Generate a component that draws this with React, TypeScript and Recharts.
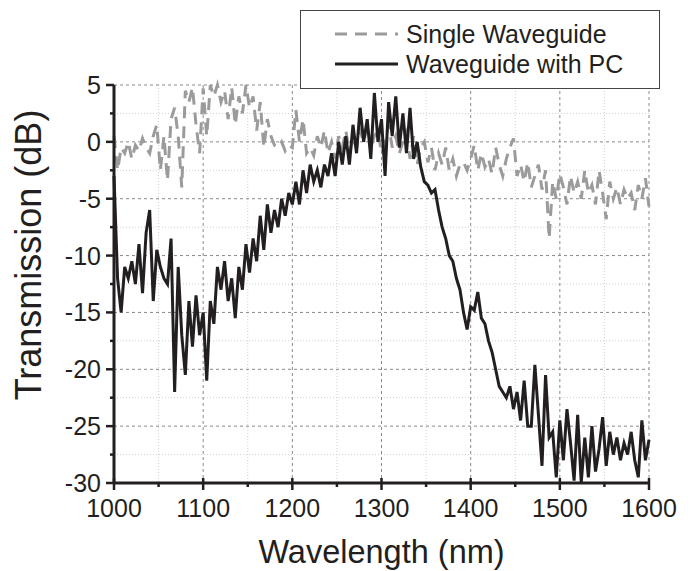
import React from "react";
import { LineChart, Line, XAxis, YAxis, CartesianGrid, Legend, Label } from "recharts";

// sample grid (nm), every 4 nm
const wavelength = [
  1000, 1004, 1008, 1012, 1016, 1020, 1024, 1028, 1032, 1036,
  1040, 1044, 1048, 1052, 1056, 1060, 1064, 1068, 1072, 1076,
  1080, 1084, 1088, 1092, 1096, 1100, 1104, 1108, 1112, 1116,
  1120, 1124, 1128, 1132, 1136, 1140, 1144, 1148, 1152, 1156,
  1160, 1164, 1168, 1172, 1176, 1180, 1184, 1188, 1192, 1196,
  1200, 1204, 1208, 1212, 1216, 1220, 1224, 1228, 1232, 1236,
  1240, 1244, 1248, 1252, 1256, 1260, 1264, 1268, 1272, 1276,
  1280, 1284, 1288, 1292, 1296, 1300, 1304, 1308, 1312, 1316,
  1320, 1324, 1328, 1332, 1336, 1340, 1344, 1348, 1352, 1356,
  1360, 1364, 1368, 1372, 1376, 1380, 1384, 1388, 1392, 1396,
  1400, 1404, 1408, 1412, 1416, 1420, 1424, 1428, 1432, 1436,
  1440, 1444, 1448, 1452, 1456, 1460, 1464, 1468, 1472, 1476,
  1480, 1484, 1488, 1492, 1496, 1500, 1504, 1508, 1512, 1516,
  1520, 1524, 1528, 1532, 1536, 1540, 1544, 1548, 1552, 1556,
  1560, 1564, 1568, 1572, 1576, 1580, 1584, 1588, 1592, 1596,
  1600,
];

// Single Waveguide (dB)
const single = [
  0.5, -2.5, -0.5, -1, 0, -1.5, -0.3, -0.8, 0.3, -0.5,
  -1, 0.5, 1.5, -2.5, 0.5, -3.4, 2, 3, 0.5, -4,
  4.5, 3.5, 4.8, 1.5, -1, 4.7, 0.5, 5, 4, 5,
  3.5, 4.5, 2, 4.8, 1.5, 4, 2.5, 5, 3, 4,
  1, 3.5, -0.5, 2, 0.5, -0.3, -0.5, 0, -0.8, -0.3,
  -0.5, 2.8, 0, 2, -1, -0.5, -1.2, 0.5, -0.5, 1,
  -1, 0, -1.5, 0.5, -0.5, 1, -1, 0.3, -0.5, 1,
  0, 1.5, -0.5, 0.5, 1, -1, 0, 1.5, -0.5, 0.5,
  -1, 0, 0.8, -1.5, 0.5, -2, -0.5, 0, -1.8, -0.5,
  -2.5, -1, -2, -0.5, -2.5, -1.5, -3, -2, -1.8, -2.5,
  -1.5, -0.3, -2.5, -1, -2.2, -1.5, -2.8, -0.5, -2, -3,
  -1.5, -0.5, 0.3, -3, -2, -3.5, -1.8, -4, -3, -2,
  -4.2, -2.5, -8.5, -3.5, -5, -2.8, -4, -5.5, -3, -4.5,
  -3.5, -5, -2.5, -4.5, -3.8, -5.5, -2.5, -4.5, -6.8, -3.5,
  -5, -4, -5.5, -4.2, -5, -4.5, -6, -3.8, -5, -3.2,
  -5.7,
];

// Waveguide with PC (dB)
const withPc = [
  -3, -12, -15, -11, -12, -10.5, -12.5, -9, -13.3, -8,
  -6, -14, -9.5, -11, -12, -12.5, -8.5, -22, -11, -17,
  -20.5, -14, -18, -13.5, -17, -15, -21, -14, -16, -11,
  -13, -10.5, -14, -12, -15.5, -11, -13, -9, -11.5, -8.5,
  -10.5, -6.5, -9.5, -5.5, -8, -6, -7.5, -5, -6.5, -4.5,
  -5.5, -3.5, -5.5, -2.5, -4.5, -2, -3.5, -2.5, -4, -2,
  -3, -1, -3, 0, -2, 0.5, -2, 1.5, -1, 3,
  0, 2, -1.5, 4.3, 0, 2, -3, 3.5, 0.5, 4,
  -0.5, 2.5, -1, 3, -1.5, 0, -2.2, -3.5, -3.8, -4.5,
  -4.2, -6, -7.5, -8.5, -10, -10.5, -12, -13, -15, -16.5,
  -14.5, -14.8, -13.2, -15.5, -16, -17.5, -18.5, -20, -21.5, -22,
  -22.5, -21.5, -23.5, -22, -24.5, -21, -25, -25, -19.6, -24,
  -28.5, -20.5, -26, -25.5, -29.5, -24.5, -28, -23.5, -26.5, -29.8,
  -24, -30, -26, -29.5, -25, -29, -27, -24.2, -28.5, -25.5,
  -27.5, -26, -28, -26.5, -27.5, -25.5, -28, -29.5, -24.5, -28,
  -26.2,
];

const xTicks = [1000, 1050, 1100, 1150, 1200, 1250, 1300, 1350, 1400, 1450, 1500, 1550, 1600];
const xMajor = [1000, 1100, 1200, 1300, 1400, 1500, 1600];
const xMinor = [1050, 1150, 1250, 1350, 1450, 1550];
const yTicks = [-30, -27.5, -25, -22.5, -20, -17.5, -15, -12.5, -10, -7.5, -5, -2.5, 0, 2.5, 5];
const yMajor = [-30, -25, -20, -15, -10, -5, 0, 5];
const yMinor = [-27.5, -22.5, -17.5, -12.5, -7.5, -2.5, 2.5];

const rows = wavelength.map((w, i) => ({ wavelength: w, single: single[i], withPc: withPc[i] }));

const FONT = '"Liberation Sans", Arial, Helvetica, sans-serif';
const INK = "#231f20";

const BottomTick = ({ x, y, payload }: any) => {
  const major = xMajor.includes(payload.value);
  return (
    <g>
      <line x1={x} x2={x} y1={major ? y - 5 : y} y2={major ? y + 7 : y + 4} stroke={INK} strokeWidth={2.5} />
      {major && (
        <text x={x} y={y + 34} textAnchor="middle" fontSize={25} fontFamily={FONT} fill={INK}>
          {payload.value}
        </text>
      )}
    </g>
  );
};

const TopTick = ({ x, y, payload }: any) => {
  const major = xMajor.includes(payload.value);
  return <line x1={x} x2={x} y1={major ? y - 7 : y - 3} y2={major ? y + 2 : y} stroke={INK} strokeWidth={2.5} />;
};

const LeftTick = ({ x, y, payload }: any) => {
  const major = yMajor.includes(payload.value);
  return (
    <g>
      <line x1={major ? x - 8 : x - 4} x2={x} y1={y} y2={y} stroke={INK} strokeWidth={2.5} />
      {major && (
        <text x={x - 13} y={y + 9} textAnchor="end" fontSize={25} fontFamily={FONT} fill={INK}>
          {payload.value}
        </text>
      )}
    </g>
  );
};

const LegendBox = ({ payload }: any) => (
  <div
    style={{
      width: 360,
      height: 79,
      boxSizing: "border-box",
      border: "1px solid #444",
      background: "#fff",
      position: "relative",
      fontFamily: FONT,
    }}
  >
    {(payload || []).map((p: any, i: number) => (
      <div
        key={p.value}
        style={{ position: "absolute", left: 34, top: 8 + i * 30, height: 30, display: "flex", alignItems: "center" }}
      >
        <svg width={63} height={6}>
          <line x1={0} x2={63} y1={3} y2={3} stroke={p.color} strokeWidth={3} strokeDasharray={p.payload?.strokeDasharray} />
        </svg>
        <span style={{ marginLeft: 8, fontSize: 25, color: INK, whiteSpace: "nowrap" }}>{p.value}</span>
      </div>
    ))}
  </div>
);

export default function App() {
  return (
    <div style={{ position: "absolute", left: 0, top: 0, background: "#fff", fontFamily: FONT }}>
      <LineChart width={692} height={571} data={rows} margin={{ top: 85, right: 43, bottom: 0, left: 0 }}>
        <CartesianGrid
          horizontalValues={yMinor}
          verticalValues={xMinor}
          stroke="#d0d0d0"
          strokeDasharray="1 2"
        />
        <CartesianGrid
          horizontalValues={yMajor}
          verticalValues={xMajor}
          stroke="#8a8a8a"
          strokeDasharray="3 3"
        />
        <XAxis
          dataKey="wavelength"
          type="number"
          domain={[1000, 1600]}
          ticks={xTicks}
          height={88}
          tickSize={0}
          tickMargin={0}
          tickLine={false}
          tick={<BottomTick />}
          axisLine={{ stroke: INK, strokeWidth: 3 }}
          interval={0}
        >
          <Label
            content={({ viewBox }: any) => (
              <text
                x={viewBox.x + viewBox.width / 2}
                y={563}
                textAnchor="middle"
                fontSize={32.5}
                fontFamily={FONT}
                fill={INK}
              >
                Wavelength (nm)
              </text>
            )}
          />
        </XAxis>
        <XAxis
          xAxisId="top"
          orientation="top"
          type="number"
          domain={[1000, 1600]}
          ticks={xTicks}
          height={0}
          tickSize={0}
          tickMargin={0}
          tickLine={false}
          tick={<TopTick />}
          axisLine={{ stroke: INK, strokeWidth: 3 }}
          interval={0}
        />
        <YAxis
          type="number"
          domain={[-30, 5]}
          ticks={yTicks}
          width={114}
          tickSize={0}
          tickMargin={0}
          tickLine={false}
          tick={<LeftTick />}
          axisLine={{ stroke: INK, strokeWidth: 3 }}
          interval={0}
        >
          <Label
            content={() => (
              <text
                x={0}
                y={0}
                transform="translate(41 255) rotate(-90)"
                textAnchor="middle"
                fontSize={36}
                fontFamily={FONT}
                fill={INK}
              >
                Transmission (dB)
              </text>
            )}
          />
        </YAxis>
        <YAxis
          yAxisId="right"
          orientation="right"
          type="number"
          domain={[-30, 5]}
          width={0}
          tick={false}
          tickLine={false}
          axisLine={{ stroke: INK, strokeWidth: 3 }}
        />
        <Line
          dataKey="single"
          name="Single Waveguide"
          type="linear"
          stroke="#9b9b9b"
          strokeWidth={3}
          strokeDasharray="12 8"
          dot={false}
          isAnimationActive={false}
        />
        <Line
          dataKey="withPc"
          name="Waveguide with PC"
          type="linear"
          stroke={INK}
          strokeWidth={3}
          dot={false}
          isAnimationActive={false}
        />
        <Legend
          layout="horizontal"
          verticalAlign="middle"
          align="center"
          content={<LegendBox />}
          wrapperStyle={{ left: 300, top: 10, width: 360, height: 79 }}
        />
      </LineChart>
    </div>
  );
}
